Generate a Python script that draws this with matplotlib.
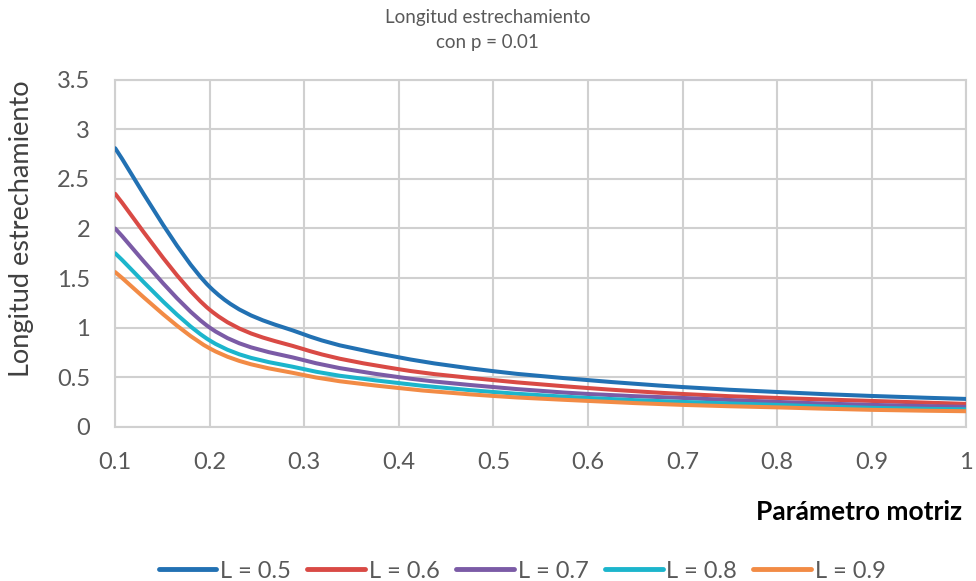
import numpy as np
import matplotlib
matplotlib.use("Agg")
import matplotlib.pyplot as plt
from matplotlib.path import Path
from matplotlib.patches import PathPatch
from matplotlib.ticker import FuncFormatter

# data
x = [0.1, 0.2, 0.3, 0.4, 0.5, 0.6, 0.7, 0.8, 0.9, 1.0]
L05 = [2.81, 1.41, 0.93, 0.70, 0.56, 0.47, 0.40, 0.35, 0.31, 0.28]
L06 = [2.35, 1.18, 0.78, 0.58, 0.47, 0.39, 0.33, 0.29, 0.26, 0.23]
L07 = [2.00, 1.00, 0.67, 0.50, 0.40, 0.33, 0.29, 0.25, 0.22, 0.20]
L08 = [1.75, 0.87, 0.58, 0.44, 0.35, 0.29, 0.25, 0.22, 0.19, 0.175]
L09 = [1.56, 0.79, 0.52, 0.39, 0.31, 0.26, 0.22, 0.195, 0.17, 0.156]
labels = ["L = 0.5", "L = 0.6", "L = 0.7", "L = 0.8", "L = 0.9"]
colors = ["#2271b3", "#d94a45", "#7b5ba6", "#1cb5cc", "#f28b45"]

plt.rcParams['font.family'] = ['Lato', 'DejaVu Sans']
grey = "#595959"


def smooth_path(xs, ys):
    # excel-like smoothed line drawn as cubic bezier segments
    pts = np.column_stack([xs, ys])
    verts = [pts[0]]
    codes = [Path.MOVETO]
    n = len(pts)
    for i in range(n - 1):
        p0 = pts[i - 1] if i > 0 else pts[i]
        p1 = pts[i]
        p2 = pts[i + 1]
        p3 = pts[i + 2] if i + 2 < n else pts[i + 1]
        c1 = p1 + (p2 - p0) / 6.0
        c2 = p2 - (p3 - p1) / 6.0
        verts += [c1, c2, p2]
        codes += [Path.CURVE4] * 3
    return Path(verts, codes)


fig = plt.figure(figsize=(9.76, 5.81), dpi=100)
ax = fig.add_axes([0.118, 0.2656, 0.872, 0.597])

for ys, lab, c in zip([L05, L06, L07, L08, L09], labels, colors):
    ax.add_patch(PathPatch(smooth_path(x, ys), fill=False, edgecolor=c,
                           lw=2.9, capstyle='round', joinstyle='round', zorder=3))
    ax.plot([], [], color=c, lw=3.5, label=lab, solid_capstyle='round')

ax.set_xlim(0.1, 1.0)
ax.set_ylim(0, 3.5)
ax.set_xticks(np.arange(0.1, 1.01, 0.1))
ax.set_yticks(np.arange(0, 3.51, 0.5))
fmt = FuncFormatter(lambda v, p: "%g" % round(v, 2))
ax.xaxis.set_major_formatter(fmt)
ax.yaxis.set_major_formatter(fmt)
ax.grid(True, color="#d0d0d0", lw=1.5, zorder=0)
for s in ax.spines.values():
    s.set_color("#d0d0d0")
    s.set_linewidth(1.5)
ax.tick_params(length=0, labelsize=17, colors=grey)
ax.tick_params(axis='x', pad=18)
ax.tick_params(axis='y', pad=18)

ax.set_ylabel("Longitud estrechamiento", fontsize=19.5, color="#404040")
ax.yaxis.set_label_coords(-0.095, 0.57)
fig.text(0.4995, 0.984, "Longitud estrechamiento\ncon p = 0.01", ha='center', va='top',
         fontsize=13.5, color=grey, linespacing=1.55)
ax.text(0.995, -0.246, "Parámetro motriz", transform=ax.transAxes, ha='right', va='center',
        fontsize=19, fontweight='bold', color='black')

fig.legend(loc='center', bbox_to_anchor=(0.535, 0.017), ncol=5, frameon=False,
           fontsize=17, labelcolor=grey, handlelength=2.45, handletextpad=0.15,
           columnspacing=0.7)

fig.savefig("out.png", dpi=100, facecolor='white')
